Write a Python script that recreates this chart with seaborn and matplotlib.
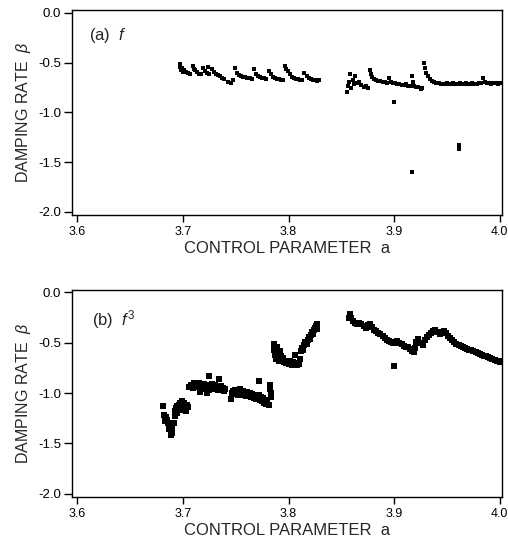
import numpy as np
import pandas as pd
import matplotlib
matplotlib.use("Agg")
import matplotlib.pyplot as plt
import seaborn as sns

# ---- panel (a): f ----
a1_x = [3.697, 3.697, 3.698, 3.699, 3.700, 3.701, 3.703, 3.705, 3.707, 3.709, 3.710, 3.711,
        3.713, 3.715, 3.717, 3.719, 3.721, 3.723, 3.724, 3.725, 3.727, 3.729, 3.731, 3.733,
        3.735, 3.737, 3.739]
a1_y = [-0.51, -0.54, -0.57, -0.55, -0.59, -0.57, -0.59, -0.60, -0.61, -0.53, -0.56, -0.57,
        -0.59, -0.61, -0.62, -0.55, -0.58, -0.60, -0.54, -0.62, -0.56, -0.59, -0.61, -0.63,
        -0.64, -0.66, -0.67]

a2_x = [3.743, 3.745, 3.747, 3.749, 3.751, 3.753, 3.755, 3.757, 3.759, 3.761, 3.763, 3.765,
        3.767, 3.769, 3.771, 3.773, 3.775, 3.777, 3.779, 3.781, 3.783, 3.785, 3.787, 3.789,
        3.791, 3.793, 3.795, 3.797, 3.798, 3.799, 3.801, 3.803, 3.805, 3.807, 3.809, 3.811,
        3.813, 3.815, 3.817, 3.819, 3.821, 3.823, 3.825, 3.827, 3.829]
a2_y = [-0.70, -0.71, -0.68, -0.55, -0.60, -0.63, -0.64, -0.65, -0.65, -0.66, -0.66, -0.67,
        -0.56, -0.61, -0.64, -0.65, -0.66, -0.66, -0.67, -0.58, -0.62, -0.65, -0.66, -0.67,
        -0.67, -0.68, -0.68, -0.53, -0.56, -0.58, -0.62, -0.65, -0.66, -0.67, -0.67, -0.68,
        -0.68, -0.60, -0.64, -0.66, -0.67, -0.68, -0.68, -0.69, -0.68]

a3_x = [3.855, 3.856, 3.857, 3.858, 3.859, 3.861, 3.862, 3.863, 3.865, 3.867, 3.869, 3.871,
        3.873, 3.875, 3.877, 3.878, 3.879, 3.881, 3.883, 3.885, 3.887, 3.889, 3.891, 3.893,
        3.895, 3.897, 3.899, 3.901, 3.903, 3.905, 3.907, 3.909, 3.911, 3.913, 3.915, 3.917,
        3.918, 3.919, 3.921, 3.923, 3.925, 3.926]
a3_y = [-0.80, -0.74, -0.70, -0.61, -0.76, -0.68, -0.72, -0.64, -0.71, -0.70, -0.73, -0.75,
        -0.74, -0.76, -0.57, -0.61, -0.65, -0.67, -0.68, -0.69, -0.69, -0.70, -0.70, -0.71,
        -0.66, -0.70, -0.71, -0.71, -0.72, -0.72, -0.73, -0.73, -0.72, -0.74, -0.74, -0.64,
        -0.70, -0.74, -0.75, -0.75, -0.77, -0.76]

a4_x = [3.928, 3.929, 3.930, 3.932, 3.934, 3.936, 3.938, 3.940, 3.942, 3.944, 3.946, 3.948,
        3.950, 3.952, 3.954, 3.956, 3.958, 3.960, 3.962, 3.964, 3.966, 3.968, 3.970, 3.972,
        3.974, 3.976, 3.978, 3.980, 3.982, 3.984, 3.986, 3.988, 3.990, 3.992, 3.994, 3.996,
        3.998, 4.000]
a4_y = [-0.50, -0.55, -0.60, -0.64, -0.67, -0.69, -0.70, -0.71, -0.71, -0.72, -0.72, -0.72,
        -0.71, -0.72, -0.72, -0.71, -0.72, -0.72, -0.71, -0.72, -0.72, -0.71, -0.72, -0.72,
        -0.71, -0.72, -0.72, -0.71, -0.71, -0.66, -0.70, -0.71, -0.71, -0.72, -0.71, -0.71,
        -0.72, -0.71]

a_out_x = [3.900, 3.917, 3.961, 3.961]
a_out_y = [-0.90, -1.60, -1.33, -1.37]

# ---- panel (b): f^3 ----
b1_x = [3.681, 3.682, 3.683, 3.683, 3.684, 3.685, 3.686, 3.687, 3.687, 3.688, 3.689, 3.689,
        3.690, 3.690, 3.691, 3.692, 3.692, 3.693, 3.694, 3.694, 3.695, 3.696, 3.697, 3.697,
        3.698, 3.699, 3.700, 3.701, 3.701, 3.702, 3.703, 3.704, 3.705, 3.706]
b1_y = [-1.13, -1.22, -1.25, -1.28, -1.24, -1.27, -1.30, -1.33, -1.36, -1.31, -1.38, -1.42,
        -1.35, -1.40, -1.30, -1.18, -1.23, -1.15, -1.13, -1.20, -1.16, -1.12, -1.10, -1.17,
        -1.14, -1.08, -1.12, -1.15, -1.10, -1.13, -1.18, -1.12, -1.14, -0.94]

b2_x = [3.708, 3.709, 3.710, 3.711, 3.712, 3.713, 3.714, 3.715, 3.716, 3.716, 3.717, 3.718,
        3.719, 3.720, 3.721, 3.722, 3.723, 3.723, 3.724, 3.725, 3.725, 3.726, 3.727, 3.728,
        3.729, 3.730, 3.731, 3.732, 3.733, 3.734, 3.734, 3.735, 3.736, 3.737, 3.738, 3.739,
        3.740]
b2_y = [-0.92, -0.95, -0.90, -0.93, -0.91, -0.94, -0.92, -0.90, -0.95, -0.99, -0.93, -0.92,
        -0.94, -0.91, -0.96, -0.93, -0.92, -1.00, -0.95, -0.83, -0.97, -0.93, -0.91, -0.94,
        -0.96, -0.92, -0.95, -0.93, -0.97, -0.86, -0.94, -0.96, -0.93, -0.97, -0.95, -0.98,
        -0.96]

b3_x = [3.745, 3.746, 3.747, 3.748, 3.749, 3.750, 3.751, 3.752, 3.753, 3.754, 3.755, 3.756,
        3.757, 3.758, 3.759, 3.760, 3.761, 3.762, 3.763, 3.764, 3.765, 3.766, 3.767, 3.768,
        3.769, 3.770, 3.771, 3.772, 3.772, 3.773, 3.774, 3.775, 3.776, 3.777, 3.778, 3.779,
        3.780, 3.781, 3.782, 3.782, 3.783, 3.783]
b3_y = [-1.06, -1.00, -0.98, -1.01, -0.97, -1.00, -0.98, -1.02, -0.99, -0.96, -1.00, -1.01,
        -0.98, -1.02, -1.00, -1.03, -0.99, -1.02, -1.00, -1.04, -1.01, -1.03, -1.05, -1.02,
        -1.06, -1.03, -1.05, -0.88, -1.02, -1.07, -1.04, -1.08, -1.05, -1.10, -1.07, -1.11,
        -1.08, -1.12, -0.92, -0.96, -1.00, -1.04]

b4_x = [3.786, 3.786, 3.787, 3.788, 3.789, 3.789, 3.790, 3.791, 3.792, 3.793, 3.794, 3.795,
        3.796, 3.797, 3.798, 3.799, 3.800, 3.801, 3.802, 3.803, 3.804, 3.805, 3.806, 3.807,
        3.808, 3.809, 3.810, 3.811, 3.812, 3.813, 3.814, 3.815, 3.816, 3.817, 3.818, 3.819,
        3.820, 3.821, 3.822, 3.823, 3.824, 3.825, 3.826, 3.827, 3.827]
b4_y = [-0.51, -0.57, -0.62, -0.66, -0.54, -0.60, -0.64, -0.68, -0.58, -0.63, -0.67, -0.65,
        -0.69, -0.68, -0.70, -0.69, -0.71, -0.68, -0.70, -0.72, -0.69, -0.71, -0.62, -0.70,
        -0.72, -0.70, -0.71, -0.66, -0.58, -0.55, -0.57, -0.52, -0.49, -0.51, -0.47, -0.44,
        -0.46, -0.42, -0.39, -0.41, -0.37, -0.35, -0.33, -0.31, -0.36]

b5_x = [3.857, 3.858, 3.859, 3.861, 3.863, 3.865, 3.867, 3.869, 3.871, 3.873, 3.875, 3.877,
        3.879, 3.881, 3.883, 3.885, 3.887, 3.889, 3.891, 3.893, 3.895, 3.897, 3.899, 3.901,
        3.903, 3.905, 3.907, 3.909, 3.911, 3.913, 3.915, 3.917, 3.919, 3.920, 3.921, 3.923,
        3.925, 3.927, 3.929, 3.931, 3.933, 3.935, 3.937, 3.939, 3.941, 3.943, 3.945, 3.947,
        3.949, 3.951, 3.953, 3.955, 3.957, 3.959, 3.961, 3.963, 3.965, 3.967, 3.969, 3.971,
        3.973, 3.975, 3.977, 3.979, 3.981, 3.983, 3.985, 3.987, 3.989, 3.991, 3.993, 3.995,
        3.997, 3.999, 4.000]
b5_y = [-0.25, -0.21, -0.25, -0.28, -0.30, -0.31, -0.30, -0.31, -0.33, -0.35, -0.32, -0.31,
        -0.34, -0.37, -0.38, -0.40, -0.41, -0.43, -0.45, -0.47, -0.48, -0.49, -0.50, -0.49,
        -0.48, -0.50, -0.51, -0.53, -0.54, -0.54, -0.56, -0.58, -0.59, -0.55, -0.49, -0.46,
        -0.50, -0.52, -0.47, -0.44, -0.42, -0.40, -0.38, -0.37, -0.39, -0.41, -0.39, -0.38,
        -0.40, -0.43, -0.45, -0.47, -0.49, -0.51, -0.52, -0.53, -0.54, -0.55, -0.56, -0.57,
        -0.57, -0.58, -0.59, -0.60, -0.61, -0.62, -0.63, -0.63, -0.64, -0.65, -0.66, -0.67,
        -0.68, -0.68, -0.69]

b_out_x = [3.900]
b_out_y = [-0.73]

x_ticks = [3.6, 3.7, 3.8, 3.9, 4.0]
y_ticks = [0.0, -0.5, -1.0, -1.5, -2.0]


def frame(xs, ys):
    return pd.DataFrame({"a": np.concatenate(xs), "beta": np.concatenate(ys)})


sns.set_style("ticks")
plt.rcParams["font.family"] = ["Liberation Sans", "DejaVu Sans"]
plt.rcParams["mathtext.fontset"] = "custom"
plt.rcParams["mathtext.it"] = "Liberation Sans:italic"
plt.rcParams["mathtext.rm"] = "Liberation Sans"
plt.rcParams["axes.unicode_minus"] = False

fig = plt.figure(figsize=(5.08, 5.40), dpi=100)
ax_a = fig.add_axes([0.142, 0.602, 0.846, 0.379])
ax_b = fig.add_axes([0.142, 0.080, 0.846, 0.383])

df_a = frame([a1_x, a2_x, a3_x, a4_x, a_out_x], [a1_y, a2_y, a3_y, a4_y, a_out_y])
df_b = frame([b1_x, b2_x, b3_x, b4_x, b5_x, b_out_x], [b1_y, b2_y, b3_y, b4_y, b5_y, b_out_y])

sns.scatterplot(data=df_a, x="a", y="beta", ax=ax_a, color="black", s=9,
                marker="s", linewidth=0)
sns.scatterplot(data=df_b, x="a", y="beta", ax=ax_b, color="black", s=16,
                marker="s", linewidth=0)

for ax in (ax_a, ax_b):
    ax.set_xlim(3.595, 4.002)
    ax.set_ylim(-2.03, 0.025)
    ax.set_xticks(x_ticks)
    ax.set_xticklabels([f"{t:.1f}" for t in x_ticks])
    ax.set_yticks(y_ticks)
    ax.set_yticklabels([f"{t:.1f}" for t in y_ticks])
    ax.tick_params(axis="x", length=5, width=1, pad=3, labelsize=9, colors="black")
    ax.tick_params(axis="y", length=6, width=1, pad=2, labelsize=9.5, colors="black")
    for sp in ax.spines.values():
        sp.set_visible(True)
        sp.set_color("black")
        sp.set_linewidth(1.0)
    ax.set_xlabel("CONTROL PARAMETER  a", fontsize=12)
    ax.set_ylabel(r"DAMPING RATE  $\beta$", fontsize=11.5)
    ax.xaxis.set_label_coords(0.5, -0.125)
    ax.yaxis.set_label_coords(-0.09, 0.5)
    ax.grid(False)

ax_a.text(0.04, 0.878, r"(a)  $f$", transform=ax_a.transAxes, fontsize=12, va="center")
ax_b.text(0.047, 0.855, r"(b)  $f^{3}$", transform=ax_b.transAxes, fontsize=12, va="center")

fig.savefig("out.png", dpi=100, facecolor="white")
